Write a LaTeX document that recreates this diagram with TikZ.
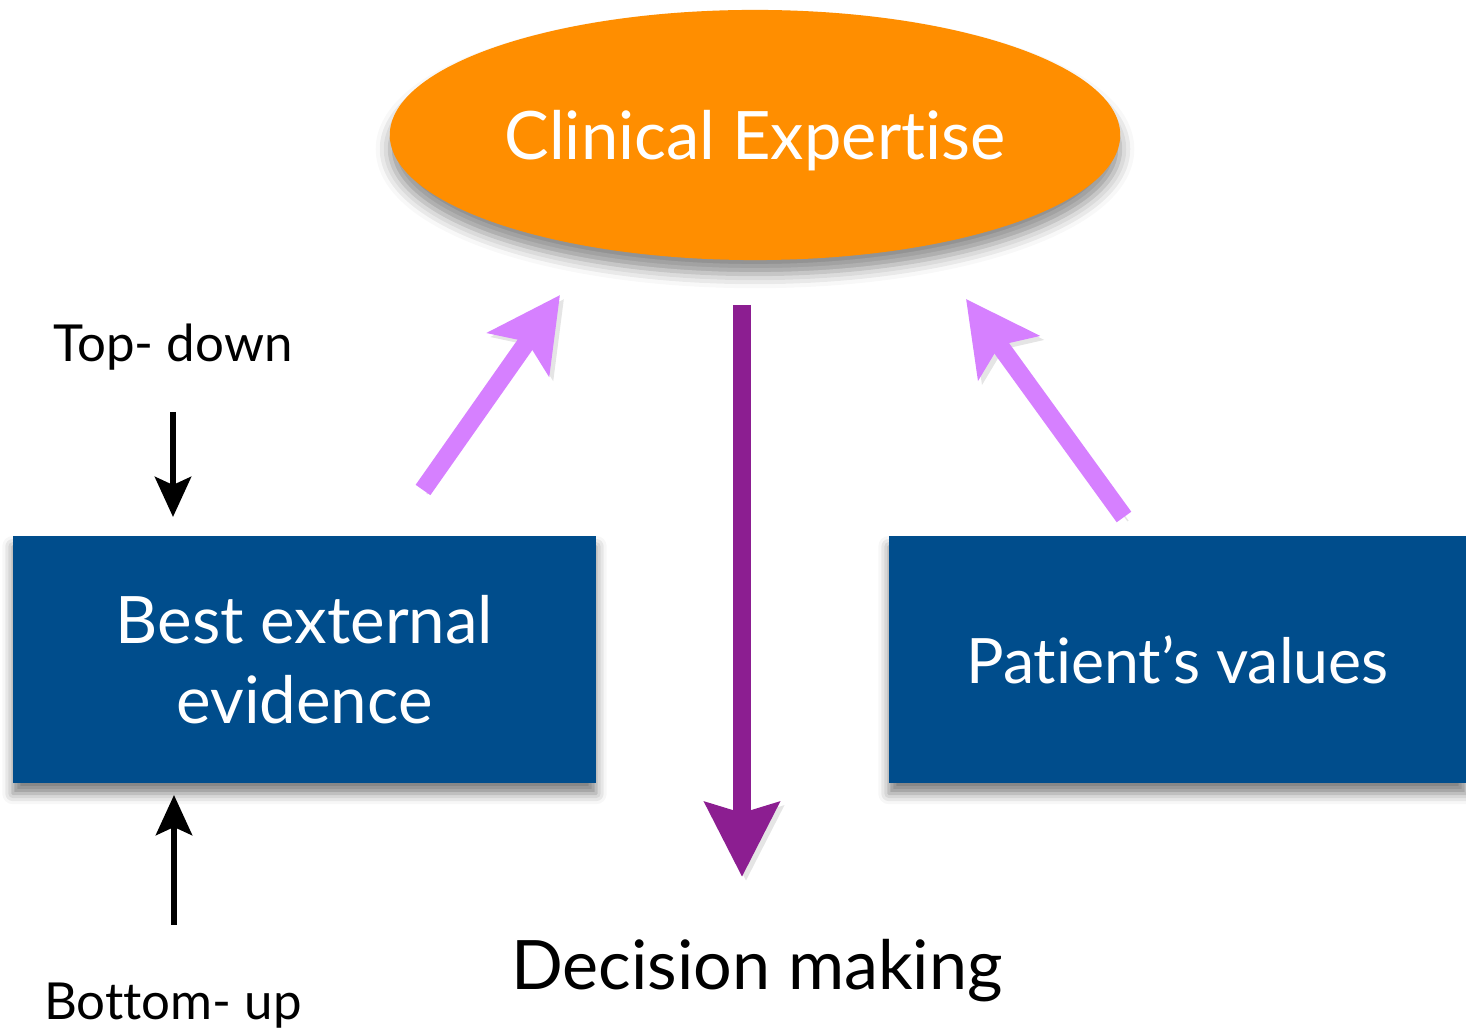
\documentclass[tikz,border=0pt]{standalone}
\usepackage{fontspec}
\setmainfont[Ligatures=NoCommon]{Lato}
\usetikzlibrary{arrows.meta,shapes.geometric,shadows.blur}

\definecolor{expertorange}{RGB}{255,142,0}
\definecolor{boxblue}{RGB}{0,77,140}
\definecolor{linkviolet}{RGB}{214,128,255}
\definecolor{flowpurple}{RGB}{140,30,145}

\begin{document}
\begin{tikzpicture}[x=0.01cm,y=-0.01cm]
\tikzstyle{expertise}=[ellipse, fill=expertorange, minimum width=7.3cm, minimum height=2.5cm, inner sep=0pt, text=white, text depth=0pt, font=\fontsize{19}{23}\selectfont, blur shadow={shadow xshift=0pt, shadow yshift=-4pt, shadow blur radius=4pt, shadow opacity=45}]
\tikzstyle{evidencebox}=[rectangle, fill=boxblue, minimum height=2.47cm, inner sep=0pt, text=white, align=center, font=\fontsize{18.6}{22.8}\selectfont, blur shadow={shadow xshift=0pt, shadow yshift=-3pt, shadow blur radius=3pt, shadow opacity=50}]
\tikzstyle{sidelabel}=[inner sep=0pt, anchor=base, font=\fontsize{14.5}{17}\selectfont]
\tikzstyle{linkarrow}=[draw=linkviolet, line width=0.18cm, -{Stealth[length=0.72cm, width=0.74cm, inset=0.15cm]}, preaction={draw=black!40, opacity=0.25, transform canvas={shift={(0.04cm,-0.04cm)}}}]
\tikzstyle{flowarrow}=[draw=flowpurple, line width=0.18cm, -{Stealth[length=0.74cm, width=0.73cm, inset=0.1cm]}, preaction={draw=black!40, opacity=0.25, transform canvas={shift={(0.04cm,-0.04cm)}}}]
\tikzstyle{dirarrow}=[draw, line width=0.065cm, -{Stealth[length=0.4cm, width=0.36cm, inset=0.08cm]}]

\useasboundingbox (0,0) rectangle (1466,1031);

% Main blocks
\node[expertise] (expert) at (755,135) {Clinical Expertise};
\node[evidencebox, minimum width=5.83cm] (evidence) at (304.5,659.5) {Best external\\evidence};
\node[evidencebox, minimum width=5.77cm, text depth=0pt, font=\fontsize{17.8}{22}\selectfont] (patient) at (1177.5,659.5) {Patient’s values};
\node[inner sep=0pt, anchor=base, font=\fontsize{19.4}{23}\selectfont] (decision) at (757,990) {Decision making};

% Side labels
\node[sidelabel] (topdown) at (173,362) {Top- down};
\node[sidelabel] (bottomup) at (173,1020) {Bottom- up};

% Arrow ends
\coordinate (ev tail) at (423,490);
\coordinate (ev tip) at (560,295);
\coordinate (pv tail) at (1124,517);
\coordinate (pv tip) at (966,299);
\coordinate (dm start) at (742,305);
\coordinate (dm end) at (742,877);
\coordinate (td start) at (173,412);
\coordinate (td end) at (173,517);
\coordinate (bu start) at (174,925);
\coordinate (bu end) at (174,795);

% Arrows
\draw[linkarrow] (ev tail) -- (ev tip);
\draw[linkarrow] (pv tail) -- (pv tip);
\draw[flowarrow] (dm start) -- (dm end);
\draw[dirarrow] (td start) -- (td end);
\draw[dirarrow] (bu start) -- (bu end);
\end{tikzpicture}
\end{document}
